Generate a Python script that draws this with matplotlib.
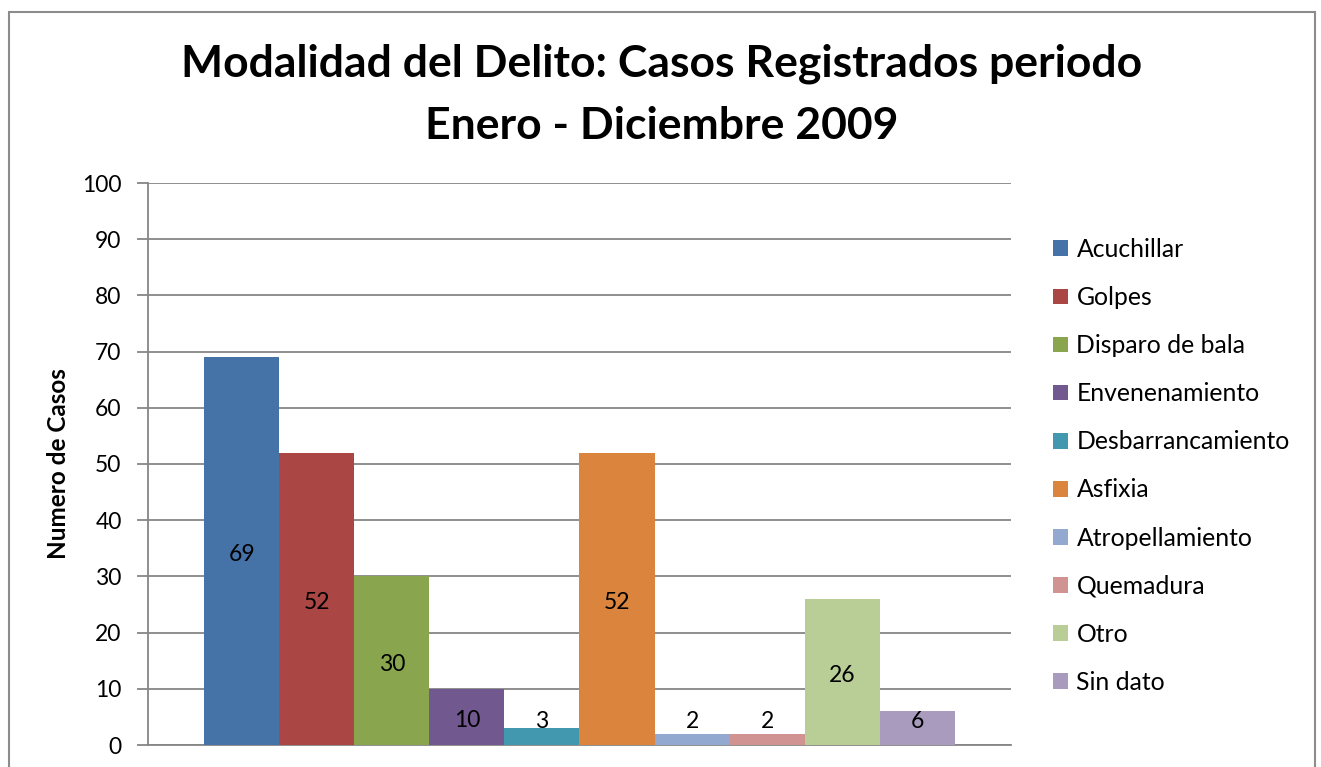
import matplotlib
matplotlib.use("Agg")
import matplotlib.pyplot as plt
from matplotlib.patches import Rectangle, Patch

plt.rcParams['font.family'] = ['Lato', 'DejaVu Sans']

categories = ["Acuchillar", "Golpes", "Disparo de bala", "Envenenamiento",
              "Desbarrancamiento", "Asfixia", "Atropellamiento", "Quemadura",
              "Otro", "Sin dato"]
values = [69, 52, 30, 10, 3, 52, 2, 2, 26, 6]
colors = ["#4572A7", "#AA4643", "#89A54E", "#71588F", "#4198AF",
          "#DB843D", "#93A9CF", "#D19392", "#B9CD96", "#A99BBD"]
yticks = list(range(0, 101, 10))
title_lines = ["Modalidad del Delito: Casos Registrados periodo",
               "Enero - Diciembre 2009"]
ylabel = "Numero de Casos"

W, H = 1321, 767
fig = plt.figure(figsize=(W/100, H/100), dpi=100)
fig.patch.set_facecolor("white")

# outer chart border
fig.add_artist(Rectangle((9/W, -0.05), (1315-9)/W, 1.05 - 12/H,
                         transform=fig.transFigure, fill=False,
                         edgecolor="#8c8c8c", linewidth=1.5))

ax = fig.add_axes([148/W, 1-745/H, (1011-148)/W, (745-183)/H])
n = len(values)
group = 0.87
bw = group / n
start = -group/2 + bw/2
gray = "#868686"
for i, (v, c) in enumerate(zip(values, colors)):
    x = start + i*bw
    ax.bar(x, v, width=bw, color=c, zorder=3, linewidth=0)
    ax.text(x, max(v/2, 4.8) - 0.6, str(v), ha="center", va="center",
            fontsize=16.5, color="black", zorder=4)

ax.set_xlim(-0.5, 0.5)
ax.set_ylim(0, 100)
ax.set_yticks(yticks)
ax.set_yticklabels([str(t) for t in yticks], fontsize=16.5)
ax.set_xticks([])
ax.grid(axis="y", color=gray, linewidth=1.3, zorder=0)
for s in ["top", "right"]:
    ax.spines[s].set_visible(False)
for s in ["left", "bottom"]:
    ax.spines[s].set_color(gray)
    ax.spines[s].set_linewidth(1.3)
ax.tick_params(axis="y", length=8, width=1.3, color=gray, pad=11)
ax.set_ylabel(ylabel, fontsize=17.5, fontweight="bold")
ax.yaxis.set_label_coords(-(148-70)/(1011-148), 0.5)

fig.text(0.501, 1-64/H, title_lines[0], ha="center", va="center",
         fontsize=32, fontweight="bold")
fig.text(0.501, 1-126/H, title_lines[1], ha="center", va="center",
         fontsize=32, fontweight="bold")

handles = [Patch(facecolor=c, edgecolor="none") for c in colors]
leg = fig.legend(handles, categories, loc="upper left",
                 bbox_to_anchor=(1053/W, 1-238/H), frameon=False,
                 fontsize=17.8, handlelength=0.6, handleheight=0.6,
                 handletextpad=0.35, labelspacing=1.015, borderaxespad=0,
                 borderpad=0)

fig.savefig("out.png", dpi=100, facecolor="white")
